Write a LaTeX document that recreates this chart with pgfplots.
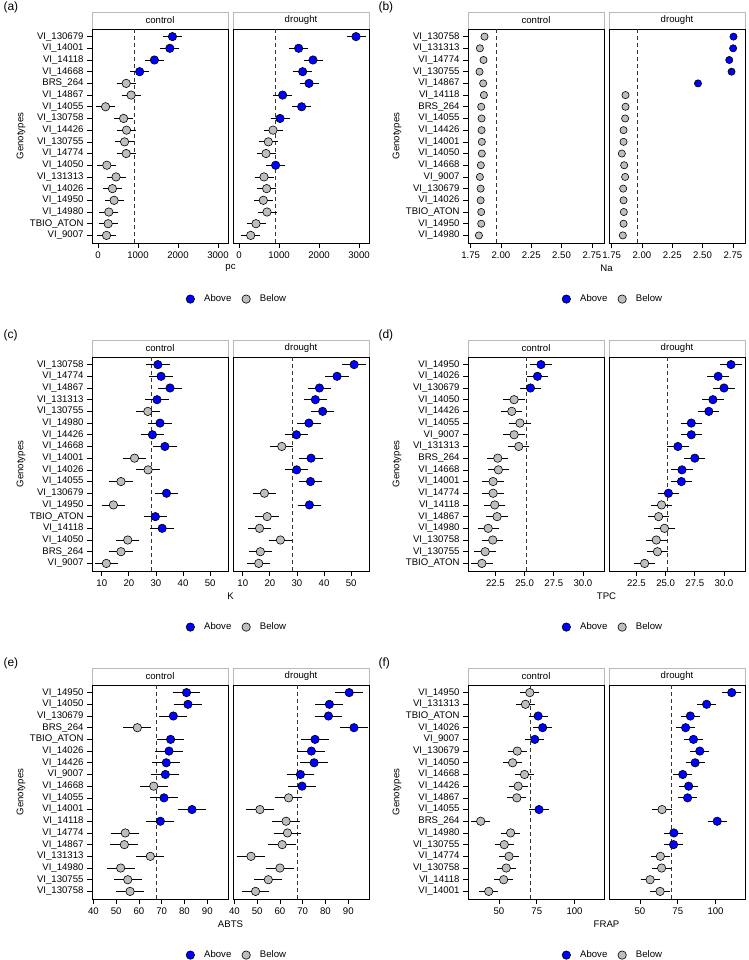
\documentclass[border=0pt]{standalone}
\usepackage{pgfplots}
\usepackage{pgfplotstable}
\usepackage{fontspec}
\setmainfont{Liberation Sans}
\pgfplotsset{compat=1.18}

\definecolor{dotblue}{HTML}{0000FF}
\definecolor{dotgray}{HTML}{BEBEBE}
\newcommand\fs{\fontsize{9.6}{11}\selectfont}

% g = genotype, y = row, c/cc = control value/class, d/dc = drought value/class
\pgfplotstableread{
g y c cc d dc
VI\_130679 1 1861 A 2925 A
VI\_14001 2 1796 A 1491 A
VI\_14118 3 1410 A 1850 A
VI\_14668 4 1041 A 1591 A
BRS\_264 5 705 B 1750 A
VI\_14867 6 828 B 1091 A
VI\_14055 7 189 B 1566 A
VI\_130758 8 640 B 1025 A
VI\_14426 9 713 B 850 B
VI\_130755 10 664 B 733 B
VI\_14774 11 705 B 675 B
VI\_14050 12 221 B 916 A
VI\_131313 13 451 B 625 B
VI\_14026 14 361 B 691 B
VI\_14950 15 402 B 608 B
VI\_14980 16 271 B 700 B
TBIO\_ATON 17 254 B 425 B
VI\_9007 18 213 B 292 B
}\tA

\pgfplotstableread{
g y c cc d dc
VI\_130758 1 1.864 B 2.755 A
VI\_131313 2 1.826 B 2.752 A
VI\_14774 3 1.856 B 2.720 A
VI\_130755 4 1.823 B 2.739 A
VI\_14867 5 1.853 B 2.462 A
VI\_14118 6 1.859 B 1.864 B
BRS\_264 7 1.837 B 1.864 B
VI\_14055 8 1.840 B 1.861 B
VI\_14426 9 1.840 B 1.848 B
VI\_14001 10 1.842 B 1.848 B
VI\_14050 11 1.842 B 1.834 B
VI\_14668 12 1.834 B 1.853 B
VI\_9007 13 1.826 B 1.861 B
VI\_130679 14 1.832 B 1.845 B
VI\_14026 15 1.832 B 1.848 B
TBIO\_ATON 16 1.837 B 1.850 B
VI\_14950 17 1.837 B 1.848 B
VI\_14980 18 1.818 B 1.842 B
}\tB

\pgfplotstableread{
g y c cc d dc
VI\_130758 1 30.7 A 51.1 A
VI\_14774 2 31.9 A 44.8 A
VI\_14867 3 35.2 A 38.3 A
VI\_131313 4 30.4 A 36.8 A
VI\_130755 5 27.0 B 39.5 A
VI\_14980 6 31.5 A 34.4 A
VI\_14426 7 28.7 A 29.8 A
VI\_14668 8 33.3 A 24.4 B
VI\_14001 9 22.1 B 35.2 A
VI\_14026 10 27.1 B 29.9 A
VI\_14055 11 17.1 B 35.0 A
VI\_130679 12 33.9 A 18.0 B
VI\_14950 13 14.3 B 34.6 A
TBIO\_ATON 14 29.8 A 19.0 B
VI\_14118 15 32.3 A 16.2 B
VI\_14050 16 19.6 B 23.9 B
BRS\_264 17 17.1 B 16.5 B
VI\_9007 18 11.7 B 15.9 B
}\tC

\pgfplotstableread{
g y c cc d dc
VI\_14950 1 26.4 A 30.6 A
VI\_14026 2 26.1 A 29.5 A
VI\_130679 3 25.5 A 30.0 A
VI\_14050 4 24.1 B 29.05 A
VI\_14426 5 23.9 B 28.7 A
VI\_14055 6 24.6 B 27.2 A
VI\_9007 7 24.1 B 27.2 A
VI\_131313 8 24.5 B 26.05 A
BRS\_264 9 22.7 B 27.5 A
VI\_14668 10 22.75 B 26.4 A
VI\_14001 11 22.3 B 26.35 A
VI\_14774 12 22.3 B 25.24 A
VI\_14118 13 22.44 B 24.65 B
VI\_14867 14 22.64 B 24.4 B
VI\_14980 15 21.88 B 24.9 B
VI\_130758 16 22.27 B 24.2 B
VI\_130755 17 21.62 B 24.3 B
TBIO\_ATON 18 21.34 B 23.2 B
}\tD

\pgfplotstableread{
g y c cc d dc
VI\_14950 1 80.9 A 90.4 A
VI\_14050 2 81.5 A 81.7 A
VI\_130679 3 75.1 A 81.3 A
BRS\_264 4 59.3 B 92.5 A
TBIO\_ATON 5 73.9 A 75.4 A
VI\_14026 6 73.2 A 73.8 A
VI\_14426 7 72.0 A 75.0 A
VI\_9007 8 71.6 A 69.0 A
VI\_14668 9 66.5 B 69.7 A
VI\_14055 10 71.0 A 63.8 B
VI\_14001 11 83.3 A 51.2 B
VI\_14118 12 69.4 A 62.7 B
VI\_14774 13 54.0 B 63.3 B
VI\_14867 14 53.6 B 61.0 B
VI\_131313 15 65.0 B 47.3 B
VI\_14980 16 52.0 B 60.0 B
VI\_130755 17 55.1 B 54.9 B
VI\_130758 18 56.1 B 49.3 B
}\tE

\pgfplotstableread{
g y c cc d dc
VI\_14950 1 70.4 B 110.7 A
VI\_131313 2 67.5 B 94.1 A
TBIO\_ATON 3 75.9 A 83.3 A
VI\_14026 4 78.9 A 80.2 A
VI\_9007 5 73.7 A 85.4 A
VI\_130679 6 62.1 B 89.6 A
VI\_14050 7 59.0 B 86.5 A
VI\_14668 8 66.9 B 78.3 A
VI\_14426 9 62.7 B 82.2 A
VI\_14867 10 61.8 B 81.5 A
VI\_14055 11 76.5 A 64.6 B
BRS\_264 12 37.9 B 101.1 A
VI\_14980 13 57.7 B 72.4 A
VI\_130755 14 53.5 B 72.2 A
VI\_14774 15 56.6 B 63.5 B
VI\_130758 16 54.8 B 64.3 B
VI\_14118 17 53.1 B 56.7 B
VI\_14001 18 43.2 B 63.3 B
}\tF

\pgfplotsset{
  facet/.style={
    scale only axis, width=136pt, height=214pt, anchor=north west,
    y dir=reverse, ymin=0.35, ymax=18.65, ytick={1,...,18},
    tick align=outside, xtick pos=lower, ytick pos=left,
    major tick length=5pt,
    axis line style={black, line width=1pt},
    major tick style={black, line width=0.7pt},
    every tick label/.append style={font=\fs},
    /pgf/number format/assume math mode=true,
    /pgf/number format/set thousands separator={},
    clip=false,
  },
  right facet/.style={facet, ytick=\empty},
  withlegend/.style={
    legend columns=2,
    legend style={at={(1.052,-0.262)}, anchor=center, draw=none, fill=none,
      font=\fs,
      /tikz/every even column/.append style={column sep=4.5pt}},
    legend image code/.code={%
      \path (-8pt,0pt) (11.5pt,0pt);
      \draw[##1] plot coordinates {(0pt,0pt)};},
  },
  meanline/.style={forget plot, black!80, line width=0.8pt, dash pattern=on 4pt off 3pt},
  errs/.style={forget plot, only marks, mark=none,
    error bars/x dir=both,
    error bars/error bar style={black, line width=0.8pt},
    error bars/error mark options={black, mark size=2.5pt, line width=0.8pt}},
  dots/.style={forget plot, only marks, scatter, scatter src=explicit symbolic,
    mark=*, mark size=4.2pt,
    scatter/classes={
      A={mark=*, fill=dotblue, draw=black, line width=0.6pt},
      B={mark=*, fill=dotgray, draw=black, line width=0.6pt}}},
  legA/.style={only marks, mark=*, mark size=4.2pt, fill=dotblue, draw=black, line width=0.6pt},
  legB/.style={only marks, mark=*, mark size=4.2pt, fill=dotgray, draw=black, line width=0.6pt},
}

\newcommand\strip[3]{%
  \draw[gray!55, line width=0.8pt, fill=white] (#1pt,-#2pt) rectangle ++(136pt,-17pt);
  \node[font=\fs] at ({#1pt+68pt},{-#2pt-8.5pt}) {#3};}

\begin{document}
\begin{tikzpicture}[font=\fs]
\useasboundingbox (0,0) rectangle (748pt,-960pt);

% ---------- (a) pc
\strip{92}{12}{control}
\strip{233}{12}{drought}
\begin{axis}[facet, withlegend, at={(92pt,-29pt)}, xmin=-150, xmax=3250,
  xtick={0,1000,2000,3000}, yticklabels from table={\tA}{g}]
\addplot[meanline] coordinates {(905,0.35) (905,18.65)};
\addplot[errs, error bars/x fixed=175] table[x=c, y=y] {\tA};
\addplot[dots] table[x=c, y=y, meta=cc] {\tA};
\addlegendimage{legA}\addlegendentry{Above}
\addlegendimage{legB}\addlegendentry{Below}
\end{axis}
\begin{axis}[right facet, at={(233pt,-29pt)}, xmin=-150, xmax=3250,
  xtick={0,1000,2000,3000}]
\addplot[meanline] coordinates {(905,0.35) (905,18.65)};
\addplot[errs, error bars/x fixed=175] table[x=d, y=y] {\tA};
\addplot[dots] table[x=d, y=y, meta=dc] {\tA};
\end{axis}
\node[font=\fontsize{12}{14}\selectfont, anchor=west] at (0pt,-7pt) {(a)};
\node[rotate=90] at (21pt,-136pt) {Genotypes};
\node at (230.5pt,-268pt) {pc};

% ---------- (b) Na
\strip{468}{12}{control}
\strip{609}{12}{drought}
\begin{axis}[facet, withlegend, at={(468pt,-29pt)}, xmin=1.728, xmax=2.85,
  xtick={1.75,2,2.25,2.5,2.75}, yticklabels from table={\tB}{g},
  xticklabel style={/pgf/number format/.cd, fixed, fixed zerofill, precision=2}]
\addplot[meanline] coordinates {(1.963,0.35) (1.963,18.65)};
\addplot[dots, mark size=3.6pt] table[x=c, y=y, meta=cc] {\tB};
\addlegendimage{legA}\addlegendentry{Above}
\addlegendimage{legB}\addlegendentry{Below}
\end{axis}
\begin{axis}[right facet, at={(609pt,-29pt)}, xmin=1.728, xmax=2.85,
  xtick={1.75,2,2.25,2.5,2.75},
  xticklabel style={/pgf/number format/.cd, fixed, fixed zerofill, precision=2}]
\addplot[meanline] coordinates {(1.963,0.35) (1.963,18.65)};
\addplot[dots, mark size=3.6pt] table[x=d, y=y, meta=dc] {\tB};
\end{axis}
\node[font=\fontsize{12}{14}\selectfont, anchor=west] at (375pt,-7pt) {(b)};
\node[rotate=90] at (397pt,-136pt) {Genotypes};
\node at (606.5pt,-268pt) {Na};

% ---------- (c) K
\strip{92}{340}{control}
\strip{233}{340}{drought}
\begin{axis}[facet, withlegend, at={(92pt,-357pt)}, xmin=6.4, xmax=56.6,
  xtick={10,20,...,50}, yticklabels from table={\tC}{g}]
\addplot[meanline] coordinates {(28.3,0.35) (28.3,18.65)};
\addplot[errs, error bars/x fixed=3.4] table[x=c, y=y] {\tC};
\addplot[dots] table[x=c, y=y, meta=cc] {\tC};
\addlegendimage{legA}\addlegendentry{Above}
\addlegendimage{legB}\addlegendentry{Below}
\end{axis}
\begin{axis}[right facet, at={(233pt,-357pt)}, xmin=6.4, xmax=56.6,
  xtick={10,20,...,50}]
\addplot[meanline] coordinates {(28.3,0.35) (28.3,18.65)};
\addplot[errs, error bars/x fixed=3.4] table[x=d, y=y] {\tC};
\addplot[dots] table[x=d, y=y, meta=dc] {\tC};
\end{axis}
\node[font=\fontsize{12}{14}\selectfont, anchor=west] at (0pt,-335pt) {(c)};
\node[rotate=90] at (21pt,-464pt) {Genotypes};
\node at (230.5pt,-596pt) {K};

% ---------- (d) TPC
\strip{468}{340}{control}
\strip{609}{340}{drought}
\begin{axis}[facet, withlegend, at={(468pt,-357pt)}, xmin=20.15, xmax=31.8,
  xtick={22.5,25,27.5,30}, yticklabels from table={\tD}{g},
  xticklabel style={/pgf/number format/.cd, fixed, fixed zerofill, precision=1}]
\addplot[meanline] coordinates {(25.12,0.35) (25.12,18.65)};
\addplot[errs, error bars/x fixed=0.7] table[x=c, y=y] {\tD};
\addplot[dots] table[x=c, y=y, meta=cc] {\tD};
\addlegendimage{legA}\addlegendentry{Above}
\addlegendimage{legB}\addlegendentry{Below}
\end{axis}
\begin{axis}[right facet, at={(609pt,-357pt)}, xmin=20.15, xmax=31.8,
  xtick={22.5,25,27.5,30},
  xticklabel style={/pgf/number format/.cd, fixed, fixed zerofill, precision=1}]
\addplot[meanline] coordinates {(25.12,0.35) (25.12,18.65)};
\addplot[errs, error bars/x fixed=0.7] table[x=d, y=y] {\tD};
\addplot[dots] table[x=d, y=y, meta=dc] {\tD};
\end{axis}
\node[font=\fontsize{12}{14}\selectfont, anchor=west] at (375pt,-335pt) {(d)};
\node[rotate=90] at (397pt,-464pt) {Genotypes};
\node at (606.5pt,-596pt) {TPC};

% ---------- (e) ABTS
\strip{92}{668}{control}
\strip{233}{668}{drought}
\begin{axis}[facet, withlegend, at={(92pt,-685pt)}, xmin=39.4, xmax=99.1,
  xtick={40,50,...,90}, yticklabels from table={\tE}{g}]
\addplot[meanline] coordinates {(67.6,0.35) (67.6,18.65)};
\addplot[errs, error bars/x fixed=5] table[x=c, y=y] {\tE};
\addplot[dots] table[x=c, y=y, meta=cc] {\tE};
\addlegendimage{legA}\addlegendentry{Above}
\addlegendimage{legB}\addlegendentry{Below}
\end{axis}
\begin{axis}[right facet, at={(233pt,-685pt)}, xmin=39.4, xmax=99.1,
  xtick={40,50,...,90}]
\addplot[meanline] coordinates {(67.6,0.35) (67.6,18.65)};
\addplot[errs, error bars/x fixed=5] table[x=d, y=y] {\tE};
\addplot[dots] table[x=d, y=y, meta=dc] {\tE};
\end{axis}
\node[font=\fontsize{12}{14}\selectfont, anchor=west] at (0pt,-663pt) {(e)};
\node[rotate=90] at (21pt,-792pt) {Genotypes};
\node at (230.5pt,-924pt) {ABTS};

% ---------- (f) FRAP
\strip{468}{668}{control}
\strip{609}{668}{drought}
\begin{axis}[facet, withlegend, at={(468pt,-685pt)}, xmin=29.5, xmax=119.5,
  xtick={50,75,100}, yticklabels from table={\tF}{g}]
\addplot[meanline] coordinates {(70.7,0.35) (70.7,18.65)};
\addplot[errs, error bars/x fixed=4.7] table[x=c, y=y] {\tF};
\addplot[dots] table[x=c, y=y, meta=cc] {\tF};
\addlegendimage{legA}\addlegendentry{Above}
\addlegendimage{legB}\addlegendentry{Below}
\end{axis}
\begin{axis}[right facet, at={(609pt,-685pt)}, xmin=29.5, xmax=119.5,
  xtick={50,75,100}]
\addplot[meanline] coordinates {(70.7,0.35) (70.7,18.65)};
\addplot[errs, error bars/x fixed=4.7] table[x=d, y=y] {\tF};
\addplot[dots] table[x=d, y=y, meta=dc] {\tF};
\end{axis}
\node[font=\fontsize{12}{14}\selectfont, anchor=west] at (375pt,-663pt) {(f)};
\node[rotate=90] at (397pt,-792pt) {Genotypes};
\node at (606.5pt,-924pt) {FRAP};

\end{tikzpicture}
\end{document}
